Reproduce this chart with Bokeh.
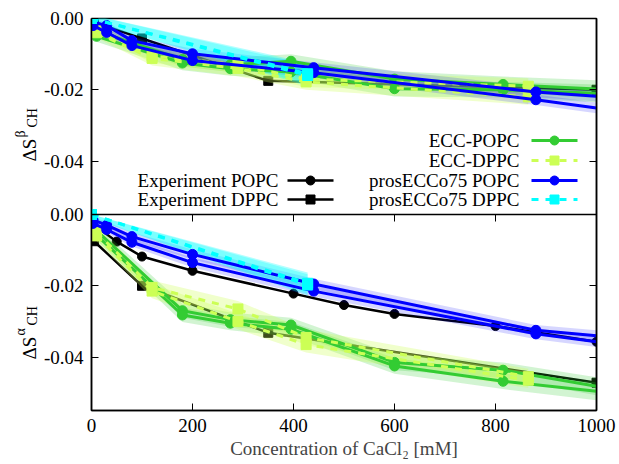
import numpy as np
from bokeh.plotting import figure
from bokeh.layouts import row
from bokeh.models import (Range1d, LinearAxis, FixedTicker, CustomJSTickFormatter, Span)
from bokeh.embed import file_html
from bokeh.resources import INLINE
from bokeh.core.properties import value

FONT = "Liberation Serif"
FS = "19px"

# ---------------- data ----------------
# concentrations [mM]
exp_popc_c = [0, 50, 100, 200, 400, 500, 600, 800, 1000]
exp_popc_alpha = [-0.0025, -0.0076, -0.0118, -0.0158, -0.0222, -0.0254, -0.0279, -0.0313, -0.0357]

exp_dppc_c = [5, 100, 350, 1000]
exp_dppc_beta = [-0.0010, -0.0056, -0.0175, -0.0200]
exp_dppc_alpha = [-0.0075, -0.0200, -0.0332, -0.0472]

ecc_popc_c = [10, 180, 275, 395, 600, 815, 1000]
ecc_popc_beta_h1 = [-0.0035, -0.0115, -0.0130, -0.0120, -0.0170, -0.0185, -0.0198]
ecc_popc_beta_h2 = [-0.0050, -0.0125, -0.0141, -0.0150, -0.0197, -0.0200, -0.0210]
ecc_popc_alpha_h1 = [-0.0045, -0.0270, -0.0295, -0.0310, -0.0415, -0.0437, -0.0482]
ecc_popc_alpha_h2 = [-0.0058, -0.0282, -0.0305, -0.0322, -0.0425, -0.0468, -0.0496]
ecc_popc_err = [0.0015, 0.0020, 0.0020, 0.0020, 0.0022, 0.0022, 0.0025]

ecc_dppc_c = [10, 120, 290, 425, 865]
ecc_dppc_beta_h1 = [-0.0030, -0.0105, -0.0130, -0.0170, -0.0190]
ecc_dppc_beta_h2 = [-0.0040, -0.0112, -0.0140, -0.0178, -0.0220]
ecc_dppc_alpha_h1 = [-0.0050, -0.0205, -0.0265, -0.0345, -0.0455]
ecc_dppc_alpha_h2 = [-0.0060, -0.0215, -0.0300, -0.0365, -0.0465]
ecc_dppc_err = [0.0015, 0.0020, 0.0022, 0.0022, 0.0022]

pros_popc_c = [3, 30, 80, 200, 440, 880, 1000]
pros_popc_beta_h1 = [-0.0010, -0.0020, -0.0062, -0.0099, -0.0138, -0.0206, -0.0218]
pros_popc_beta_h2 = [-0.0020, -0.0039, -0.0076, -0.0118, -0.0152, -0.0228, -0.0251]
pros_popc_alpha_h1 = [-0.0015, -0.0030, -0.0062, -0.0112, -0.0195, -0.0325, -0.0340]
pros_popc_alpha_h2 = [-0.0025, -0.0042, -0.0078, -0.0135, -0.0215, -0.0335, -0.0357]
pros_popc_err = [0.0008, 0.0010, 0.0012, 0.0014, 0.0015, 0.0015, 0.0015]

pros_dppc_c = [0, 428]
pros_dppc_beta_h1 = [0.0, -0.0155]
pros_dppc_beta_h2 = [0.0, -0.0160]
pros_dppc_alpha_h1 = [0.0, -0.0193]
pros_dppc_alpha_h2 = [0.0, -0.0198]
pros_dppc_err = [0.0010, 0.0030]

y_ticks = [-0.04, -0.02, 0.0]
x_ticks = [0, 200, 400, 600, 800, 1000]

# ---------------- styles / layout ----------------
C_GREEN = "#33cc33"
C_YG = "#ccff55"
C_BLUE = "#0000ff"
C_CYAN = "#00ffff"

X0, X1 = 0, 1000
SPAN = 0.055            # height of each panel in data units
FW, PH = 505, 196       # frame width, panel height (px)
LABW = 40               # width of the y-label strip
LEFT, RIGHT, TOP, BOTTOM = 91, 23, 18, 54
TICK = 7

# one frame holding both panels: bottom panel on the default range (lower half),
# top panel on an extra range (upper half)
p = figure(frame_width=FW, frame_height=2 * PH,
           x_range=Range1d(X0, X1), y_range=Range1d(-SPAN, SPAN),
           output_backend="svg", toolbar_location=None,
           x_axis_location=None, y_axis_location=None,
           min_border_left=LEFT - LABW, min_border_right=RIGHT,
           min_border_top=TOP, min_border_bottom=BOTTOM)
p.extra_y_ranges = {"top": Range1d(-2 * SPAN, 0.0)}
p.grid.visible = False
p.outline_line_color = "black"
p.outline_line_width = 1.5
p.background_fill_color = "white"
p.border_fill_color = "white"

all_y_ticks = list(y_ticks) + [t + SPAN for t in y_ticks]
fmt_code = "const v = tick > 0.001 ? tick - %r : tick; return v.toFixed(2);" % SPAN

for side in ("left", "right"):
    ax = LinearAxis(ticker=FixedTicker(ticks=all_y_ticks))
    ax.major_tick_in = TICK
    ax.major_tick_out = 0
    ax.minor_tick_line_color = None
    ax.axis_line_color = "black"
    ax.axis_line_width = 1.5
    if side == "left":
        ax.formatter = CustomJSTickFormatter(code=fmt_code)
        ax.major_label_text_font = FONT
        ax.major_label_text_font_size = FS
        ax.major_label_text_color = "black"
        ax.major_label_standoff = 8
    else:
        ax.formatter = CustomJSTickFormatter(code="return ''")
        ax.major_label_text_font_size = "0px"
        ax.major_label_standoff = 0
    p.add_layout(ax, side)

xb = LinearAxis(ticker=FixedTicker(ticks=x_ticks))
xb.major_tick_in = TICK
xb.major_tick_out = 0
xb.minor_tick_line_color = None
xb.axis_line_color = "black"
xb.axis_line_width = 1.5
xb.major_label_text_font = FONT
xb.major_label_text_font_size = FS
xb.major_label_text_color = "black"
xb.major_label_standoff = 8
xb.axis_label = "Concentration of CaCl₂ [mM]"
xb.axis_label_text_font = FONT
xb.axis_label_text_font_size = FS
xb.axis_label_text_font_style = "normal"
xb.axis_label_standoff = 3
p.add_layout(xb, "below")

# panel separator and the mirrored x ticks on top of the lower panel
p.add_layout(Span(location=0, dimension="width", line_color="black", line_width=1.5))
tick_len = TICK / PH * SPAN
p.segment(x0=x_ticks, y0=[0.0] * len(x_ticks), x1=x_ticks, y1=[-tick_len] * len(x_ticks),
          line_color="black", line_width=1)


def band(c, v, e, color, alpha, rng, clip_top):
    c = np.asarray(c, float); v = np.asarray(v, float); e = np.asarray(e, float)
    hi = v + e
    if clip_top:
        hi = np.minimum(hi, 0.0)
    p.varea(x=c, y1=v - e, y2=hi, fill_color=color, fill_alpha=alpha, y_range_name=rng)


def sim(c, v, color, marker, rng, dash="solid", size=10):
    c = np.asarray(c, float); v = np.asarray(v, float)
    p.line(c, v, line_color=color, line_width=3, line_dash=dash, y_range_name=rng)
    m = c < 1000
    p.scatter(c[m], v[m], marker=marker, size=size, fill_color=color, line_color=color,
              y_range_name=rng)


def exp(c, v, marker, size, rng):
    p.line(c, v, line_color="black", line_width=2.5, y_range_name=rng)
    p.scatter(c, v, marker=marker, size=size, fill_color="black", line_color="black",
              y_range_name=rng)


def panel(which):
    if which == "beta":
        rng, clip = "top", False
        exp(exp_dppc_c, exp_dppc_beta, "square", 9, rng)
        sets = dict(ep=(ecc_popc_beta_h1, ecc_popc_beta_h2), ed=(ecc_dppc_beta_h1, ecc_dppc_beta_h2),
                    pp=(pros_popc_beta_h1, pros_popc_beta_h2), pd=(pros_dppc_beta_h1, pros_dppc_beta_h2))
    else:
        rng, clip = "default", True
        exp(exp_popc_c, exp_popc_alpha, "circle", 9, rng)
        exp(exp_dppc_c, exp_dppc_alpha, "square", 9, rng)
        sets = dict(ep=(ecc_popc_alpha_h1, ecc_popc_alpha_h2), ed=(ecc_dppc_alpha_h1, ecc_dppc_alpha_h2),
                    pp=(pros_popc_alpha_h1, pros_popc_alpha_h2), pd=(pros_dppc_alpha_h1, pros_dppc_alpha_h2))
    for v in sets["ep"]:
        band(ecc_popc_c, v, ecc_popc_err, C_GREEN, 0.22, rng, clip)
    for v in sets["ed"]:
        band(ecc_dppc_c, v, ecc_dppc_err, C_YG, 0.30, rng, clip)
    for v in sets["pp"]:
        band(pros_popc_c, v, pros_popc_err, C_BLUE, 0.16, rng, clip)
    for v in sets["pd"]:
        band(pros_dppc_c, v, pros_dppc_err, C_CYAN, 0.30, rng, clip)
    for v in sets["ep"]:
        sim(ecc_popc_c, v, C_GREEN, "circle", rng)
    for v in sets["ed"]:
        sim(ecc_dppc_c, v, C_YG, "square", rng, dash="7 7")
    for v in sets["pp"]:
        sim(pros_popc_c, v, C_BLUE, "circle", rng)
    for v in sets["pd"]:
        sim(pros_dppc_c, v, C_CYAN, "square", rng, dash="7 7")


panel("beta")
panel("alpha")


# ---------------- legend (top panel, positions in px) ----------------
def dx(px):
    return (px - LEFT) / FW * (X1 - X0) + X0


def dy_top(py):
    return -(py - TOP) / PH * SPAN


rows = [140, 160, 180, 199]
leg_right = [("ECC-POPC", C_GREEN, "circle", "solid"),
             ("ECC-DPPC", C_YG, "square", "7 7"),
             ("prosECCo75 POPC", C_BLUE, "circle", "solid"),
             ("prosECCo75 DPPC", C_CYAN, "square", "7 7")]
leg_left = [("Experiment POPC", "black", "circle", "solid"),
            ("Experiment DPPC", "black", "square", "solid")]


def leg_entry(row_py, text_end_px, s0, s1, label, color, marker, dash):
    yy = dy_top(row_py)
    p.text(x=[dx(text_end_px)], y=[yy], text=[label], text_align="right", text_baseline="middle",
           text_font=value(FONT), text_font_size=value(FS), text_color="black", y_range_name="top")
    lw = 2.5 if color == "black" else 3
    p.line([dx(s0), dx(s1)], [yy, yy], line_color=color, line_width=lw, line_dash=dash,
           y_range_name="top")
    p.scatter([dx((s0 + s1) / 2)], [yy], marker=marker, size=9, fill_color=color, line_color=color,
              y_range_name="top")


for r, entry in zip(rows, leg_right):
    leg_entry(r, 519, 531, 577, *entry)
for r, entry in zip(rows[2:], leg_left):
    leg_entry(r, 278, 287, 333, *entry)

# ---------------- y-axis titles in a narrow strip (pixel coordinates) ----------------
H = TOP + 2 * PH + BOTTOM
lab = figure(frame_width=LABW, frame_height=H, x_range=Range1d(0, LABW), y_range=Range1d(0, H),
             output_backend="svg", toolbar_location=None,
             x_axis_location=None, y_axis_location=None,
             min_border_left=0, min_border_right=0, min_border_top=0, min_border_bottom=0)
lab.grid.visible = False
lab.outline_line_color = None
lab.background_fill_color = "white"
lab.border_fill_color = "white"


def ylabel(greek, start_py):
    kw = dict(angle=np.pi / 2, text_font=value(FONT), text_color="black",
              text_align="left", text_baseline="alphabetic")
    lab.text(x=[29], y=[H - start_py], text=["ΔS"], text_font_size=value(FS), **kw)
    lab.text(x=[20], y=[H - (start_py - 24)], text=[greek], text_font_size=value("14px"), **kw)
    lab.text(x=[32], y=[H - (start_py - 34)], text=["CH"], text_font_size=value("14px"), **kw)


ylabel("β", 143)
ylabel("α", 341)

layout = row(lab, p, spacing=0)
open("out.html", "w").write(file_html(layout, INLINE))
